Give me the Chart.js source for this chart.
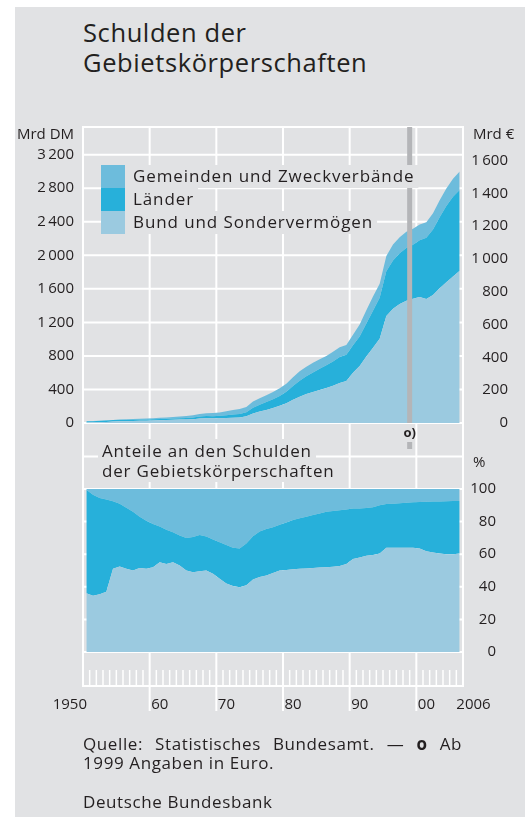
<!DOCTYPE html>
<html>
<head>
<meta charset="utf-8">
<script src="https://cdn.jsdelivr.net/npm/chart.js@4.4.1/dist/chart.umd.min.js"></script>
<style>
  html, body { margin: 0; padding: 0; }
  body { width: 525px; height: 817px; position: relative; overflow: hidden; background: #fff;
         font-family: "Open Sans", sans-serif; color: #231f20; }
  #panel { position: absolute; left: 15px; top: 7px; width: 510px; height: 810px; background: #e1e2e4; }
  #chart { position: absolute; left: 0; top: 0; }
  h1 { position: absolute; left: 83px; top: 17px; margin: 0; font-weight: 400; font-size: 25.5px;
       line-height: 30px; letter-spacing: 0.6px; }
  #sub { position: absolute; left: 98px; top: 441px; font-size: 17px; line-height: 19.5px; letter-spacing: 0.8px; }
  #sub span { background: #e1e2e4; padding: 0 4px; }
  .foot { position: absolute; left: 83px; width: 379px; font-size: 17px; line-height: 19px; letter-spacing: 0.6px; }
  .just { text-align: justify; text-align-last: justify; }
</style>
</head>
<body>
<div id="panel"></div>
<h1>Schulden der<br>Gebietskörperschaften</h1>
<canvas id="chart" width="525" height="817"></canvas>
<div id="sub"><span>Anteile an den Schulden</span><br><span>der Gebietskörperschaften</span></div>
<div class="foot just" style="top:734px">Quelle: Statistisches Bundesamt. — <b>o</b> Ab</div>
<div class="foot" style="top:753px">1999 Angaben in Euro.</div>
<div class="foot" style="top:792px">Deutsche Bundesbank</div>
<script>
// years 1950 ... 2006
const years = [];
for (let y = 1950; y <= 2006; y++) years.push(y);

// debt in Mrd DM (upper panel, stacked)
const bund = [7, 8, 10, 12, 19, 22, 22, 24, 26, 27,
  30, 34, 36, 40, 41, 42, 45, 54, 58, 57,
  57, 59, 63, 67, 79, 114, 136, 155, 180, 207,
  235, 276, 314, 345, 370, 394, 416, 444, 476, 502,
  600, 681, 794, 898, 1004, 1276, 1363, 1418, 1459, 1482,
  1504, 1480, 1525, 1607, 1678, 1748, 1815];
const laender = [12.7, 14.3, 15.9, 18.6, 15.4, 15.8, 16.5, 16.9, 15.8, 15.6,
  15.1, 13.6, 14.1, 13.5, 14.4, 16.8, 19.8, 24.1, 24.1, 24.8,
  28, 33, 37, 40, 49, 68, 83, 94, 104, 116,
  137, 165, 191, 213, 233, 252, 272, 290, 310, 311,
  326, 352, 394, 442, 490, 534, 575, 605, 629, 644,
  675, 728, 783, 847, 909, 950, 963];
const gemeinden = [0.1, 0.8, 1.5, 2.2, 2.7, 3.7, 5.1, 6.6, 8.5, 10.3,
  12.3, 14.3, 16.7, 19.3, 22.3, 25.2, 27.1, 30.4, 33.9, 36.6,
  41, 48, 56, 61, 64, 74, 77, 81, 87, 91,
  96, 104, 111, 114, 115, 114, 112, 115, 117, 116,
  126, 141, 157, 169, 166, 183, 192, 193, 192, 190,
  189, 187, 193, 202, 210, 216, 222];

// shares in % (lower panel, stacked)
const bundShare = [36, 34.5, 35.5, 37, 51, 52.5, 51, 50, 51.5, 51,
  52, 55, 54, 55, 53, 50, 49, 49.5, 50, 48,
  45, 42, 40.5, 39.8, 41, 44.5, 46, 47, 48.5, 50,
  50.3, 50.7, 51, 51.3, 51.5, 51.8, 52, 52.3, 52.7, 54,
  57, 58, 59, 59.5, 60.5, 64, 64, 64, 64, 64,
  63.5, 61.8, 61, 60.5, 60, 60, 60.5];
const laenderShare = [63.5, 62, 59, 56.5, 41.5, 38.5, 37.5, 36, 31.5, 29.5,
  26.5, 22, 21, 18.5, 18.5, 20, 21.5, 22.3, 20.8, 21,
  22.3, 23.6, 23.5, 23.7, 25.5, 26.5, 28, 28.5, 28, 28,
  29.2, 30.3, 31, 31.7, 32.5, 33.2, 34, 34.2, 34.3, 33.5,
  31, 30, 29.3, 29.3, 29.5, 26.8, 27, 27.3, 27.6, 27.8,
  28.5, 30.4, 31.3, 31.9, 32.5, 32.6, 32.1];
const gemeindenShare = [0.5, 3.5, 5.5, 6.5, 7.5, 9, 11.5, 14, 17, 19.5,
  21.5, 23, 25, 26.5, 28.5, 30, 29.5, 28.2, 29.2, 31,
  32.7, 34.4, 36, 36.5, 33.5, 29, 26, 24.5, 23.5, 22,
  20.5, 19, 18, 17, 16, 15, 14, 13.5, 13, 12.5,
  12, 12, 11.7, 11.2, 10, 9.2, 9, 8.7, 8.4, 8.2,
  8, 7.8, 7.7, 7.6, 7.5, 7.4, 7.4];

// ticks
const dmTicks = [0, 400, 800, 1200, 1600, 2000, 2400, 2800, 3200];
const euroTicks = [0, 200, 400, 600, 800, 1000, 1200, 1400, 1600];
const pctTicks = [0, 20, 40, 60, 80, 100];
const xTickYears = [1950, 1960, 1970, 1980, 1990, 2000, 2006];
const xTickLabels = ['1950', '60', '70', '80', '90', '00', '2006'];
const decades = [1960, 1970, 1980, 1990, 2000];

const EURO_RATE = 1.95583;
const EURO_YEAR = 1999;
const X_MIN = 1950, X_MAX = 2007;
const DM_MIN = -2731, DM_MAX = 3530;

const FONT = '"Open Sans", sans-serif';
const TEXT = '#231f20';
const BG = '#e1e2e4';
const C_BUND = '#9bcae0';
const C_LAND = '#27b0da';
const C_GEM = '#6dbcdc';

const fmt = v => v >= 1000 ? String(v).replace(/(\d)(\d{3})$/, '$1\u2009$2') : String(v);
// values are plotted in the middle of each year
const pts = arr => years.map((yr, i) => ({ x: yr + 0.5, y: arr[i] }));

const gridPlugin = {
  id: 'grid',
  beforeDatasetsDraw(chart) {
    const { ctx, chartArea: a, scales: { x, yDM, yPct } } = chart;
    const xl = x.getPixelForValue(X_MIN), xr = x.getPixelForValue(X_MAX);
    const stripTop = a.bottom + 18, stripBot = a.bottom + 34, decBot = a.bottom + 59;
    ctx.save();
    ctx.strokeStyle = '#fff';
    ctx.lineWidth = 2;
    const hline = y => { ctx.beginPath(); ctx.moveTo(xl - 1, y); ctx.lineTo(xr + 1, y); ctx.stroke(); };
    const vline = (px, y0, y1) => { ctx.beginPath(); ctx.moveTo(px, y0); ctx.lineTo(px, y1); ctx.stroke(); };
    hline(a.top);
    [-400, ...dmTicks].forEach(v => hline(yDM.getPixelForValue(v)));
    pctTicks.forEach(v => hline(yPct.getPixelForValue(v)));
    hline(stripBot);
    vline(xl, a.top - 1, stripBot + 1);
    vline(xr, a.top - 1, stripBot + 1);
    decades.forEach(yr => vline(x.getPixelForValue(yr), a.top, decBot));
    ctx.lineWidth = 1.5;
    for (let yr = X_MIN + 1; yr < X_MAX; yr++) {
      if (yr % 10) vline(x.getPixelForValue(yr), stripTop, stripBot);
    }
    ctx.restore();
  }
};

const overlayPlugin = {
  id: 'overlay',
  afterDatasetsDraw(chart) {
    const { ctx, chartArea: a, scales: { x, yDM, yPct } } = chart;
    ctx.save();
    // euro changeover marker
    const xm = x.getPixelForValue(EURO_YEAR);
    const y0 = yDM.getPixelForValue(0);
    ctx.fillStyle = '#b4b5b8';
    ctx.fillRect(xm - 2.5, a.top, 5, y0 - a.top);
    ctx.fillRect(xm - 2.5, y0 + 19, 5, 7);
    ctx.fillStyle = TEXT;
    ctx.font = `700 13px ${FONT}`;
    ctx.textAlign = 'center';
    ctx.textBaseline = 'middle';
    ctx.fillText('o)', xm, y0 + 10);

    // legend
    const lx = a.left + 18, ly = a.top + 38, rowH = 23, sw = 24;
    ctx.font = `400 17px ${FONT}`;
    ctx.letterSpacing = '0.9px';
    ctx.textAlign = 'left';
    [2, 1, 0].forEach((di, i) => {
      const ds = chart.data.datasets[di];
      const y = ly + i * rowH;
      ctx.fillStyle = ds.backgroundColor;
      ctx.fillRect(lx, y, sw, rowH);
      const w = ctx.measureText(ds.label).width;
      ctx.fillStyle = BG;
      ctx.fillRect(lx + sw, y, w + 12, rowH);
      ctx.fillStyle = TEXT;
      ctx.fillText(ds.label, lx + sw + 8, y + rowH / 2 + 1);
    });
    ctx.letterSpacing = '0px';

    // unit labels and % ticks
    ctx.font = `400 15px ${FONT}`;
    ctx.fillStyle = TEXT;
    ctx.textAlign = 'right';
    ctx.fillText('Mrd DM', a.left - 9, a.top + 8);
    ctx.textAlign = 'left';
    ctx.fillText('Mrd €', a.right + 10, a.top + 8);
    ctx.fillText('%', a.right + 10, yPct.getPixelForValue(100) - 26);
    ctx.textAlign = 'right';
    pctTicks.forEach(v => ctx.fillText(String(v), a.right + 33, yPct.getPixelForValue(v)));

    // year labels
    const ly2 = a.bottom + 53;
    xTickYears.forEach((yr, i) => {
      const px = x.getPixelForValue(yr);
      if (i === 0) { ctx.textAlign = 'right'; ctx.fillText(xTickLabels[i], px + 4, ly2); }
      else { ctx.textAlign = 'left'; ctx.fillText(xTickLabels[i], px + (yr % 10 ? 0 : 1.5), ly2); }
    });
    ctx.restore();
  }
};

const tickFont = { family: FONT, size: 15 };

new Chart(document.getElementById('chart').getContext('2d'), {
  type: 'line',
  data: {
    datasets: [
      { label: 'Bund und Sondervermögen', data: pts(bund), yAxisID: 'yDM', backgroundColor: C_BUND, fill: 'origin' },
      { label: 'Länder', data: pts(laender), yAxisID: 'yDM', backgroundColor: C_LAND, fill: '-1' },
      { label: 'Gemeinden und Zweckverbände', data: pts(gemeinden), yAxisID: 'yDM', backgroundColor: C_GEM, fill: '-1' },
      { label: 'Bund (Anteil)', data: pts(bundShare), yAxisID: 'yPct', backgroundColor: C_BUND, fill: 'origin' },
      { label: 'Länder (Anteil)', data: pts(laenderShare), yAxisID: 'yPct', backgroundColor: C_LAND, fill: '-1' },
      { label: 'Gemeinden (Anteil)', data: pts(gemeindenShare), yAxisID: 'yPct', backgroundColor: C_GEM, fill: '-1' }
    ]
  },
  options: {
    responsive: false,
    animation: false,
    devicePixelRatio: 1,
    events: [],
    layout: { padding: { top: 127, bottom: 165, left: 0, right: 17 } },
    elements: {
      point: { radius: 0 },
      line: { borderWidth: 0, borderColor: 'rgba(0,0,0,0)', tension: 0 }
    },
    plugins: { legend: { display: false }, tooltip: { enabled: false } },
    scales: {
      x: { type: 'linear', min: X_MIN, max: X_MAX, display: false },
      yDM: {
        position: 'left', stacked: true, min: DM_MIN, max: DM_MAX,
        afterBuildTicks: s => { s.ticks = dmTicks.map(v => ({ value: v })); },
        afterFit: s => { s.width = 83; },
        grid: { display: false, drawTicks: false },
        border: { display: false },
        ticks: { padding: 9, font: tickFont, color: TEXT, callback: v => fmt(v) }
      },
      yEUR: {
        position: 'right', min: DM_MIN / EURO_RATE, max: DM_MAX / EURO_RATE,
        afterBuildTicks: s => { s.ticks = euroTicks.map(v => ({ value: v })); },
        afterFit: s => { s.width = 45; },
        grid: { display: false, drawTicks: false },
        border: { display: false },
        ticks: { padding: 0, crossAlign: 'far', font: tickFont, color: TEXT, callback: v => fmt(v) }
      },
      yPct: { display: false, stacked: true, min: 0, max: 322.1 }
    }
  },
  plugins: [gridPlugin, overlayPlugin]
});
</script>
</body>
</html>
